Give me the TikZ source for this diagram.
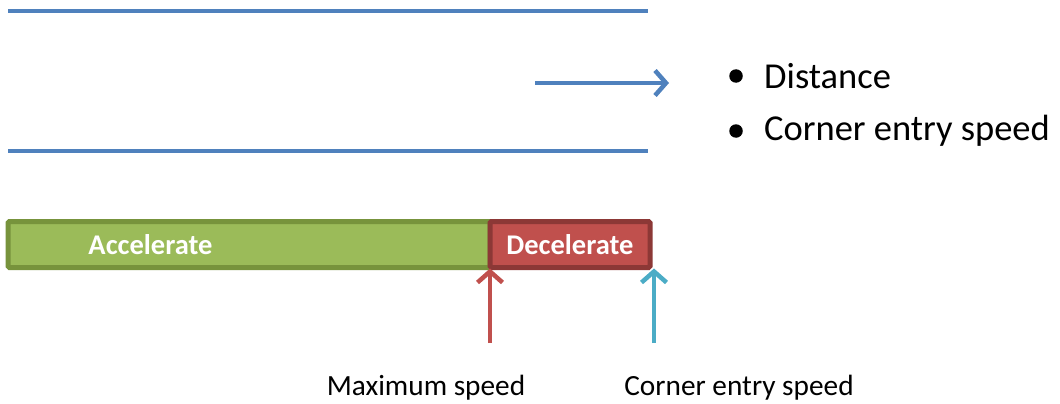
\documentclass[tikz,border=0pt]{standalone}
\usepackage{fontspec}
\setmainfont{Carlito}
\usetikzlibrary{arrows.meta}
\definecolor{lineblue}{HTML}{4F81BD}
\definecolor{accfill}{HTML}{9BBB59}
\definecolor{accdraw}{HTML}{77933C}
\definecolor{decfill}{HTML}{C0504D}
\definecolor{decdraw}{HTML}{8C3836}
\definecolor{entryblue}{HTML}{4BACC6}
\tikzset{
  x=1pt, y=-1pt,
  hline/.style={draw=lineblue, line width=4.5pt},
  barb/.style={line width=4.5pt, -{Straight Barb[length=11pt,width=25pt,line width=4.5pt]}},
  barbox/.style={line width=5pt, rounded corners=1.5pt, minimum height=46pt, inner sep=0pt, outer sep=0pt, anchor=west,
     text=white, font=\bfseries\fontsize{28.5}{30}\selectfont},
  bulletdot/.style={circle, fill=black, minimum size=13.5pt, inner sep=0pt},
  bullettext/.style={anchor=west, font=\fontsize{36.5}{40}\selectfont, inner sep=0pt},
  labeltext/.style={font=\fontsize{29.3}{30}\selectfont, inner sep=0pt}
}
\begin{document}
\begin{tikzpicture}
\useasboundingbox (0,0) rectangle (1060,404);
% horizontal lines
\coordinate (t1) at (8,11);
\coordinate (t2) at (648,11);
\coordinate (b1) at (8,151);
\coordinate (b2) at (648,151);
\draw[hline] (t1) -- (t2);
\draw[hline] (b1) -- (b2);
% right arrow
\coordinate (ra1) at (535,83);
\coordinate (ra2) at (669,83);
\draw[barb, draw=lineblue] (ra1) -- (ra2);
% bullets
\node[bulletdot] (p1) at (736,76) {};
\node[bulletdot] (p2) at (736,131) {};
\node[bullettext] (d1) at (764,76) {Distance};
\node[bullettext] (d2) at (764,131) {Corner entry speed};
% bars
\node[barbox, fill=accfill, draw=accdraw, minimum width=482pt] (acc) at (8,244.5) {};
\node[text=white, font=\bfseries\fontsize{28.5}{30}\selectfont, inner sep=0pt] (acct) at (150.5,244.5) {Accelerate};
\node[barbox, fill=decfill, draw=decdraw, minimum width=160pt] (dec) at (490,244.5) {Decelerate};
% up arrows
\coordinate (ma) at (490,343);
\coordinate (ca) at (654,343);
\draw[barb, draw=decfill] (ma) -- ([yshift=-1pt]ma |- dec.south);
\draw[barb, draw=entryblue] (ca) -- ([yshift=-1pt]ca |- dec.south);
% labels
\node[labeltext] (ml) at (426,388) {Maximum speed};
\node[labeltext] (cl) at (739,388) {Corner entry speed};
\end{tikzpicture}
\end{document}
